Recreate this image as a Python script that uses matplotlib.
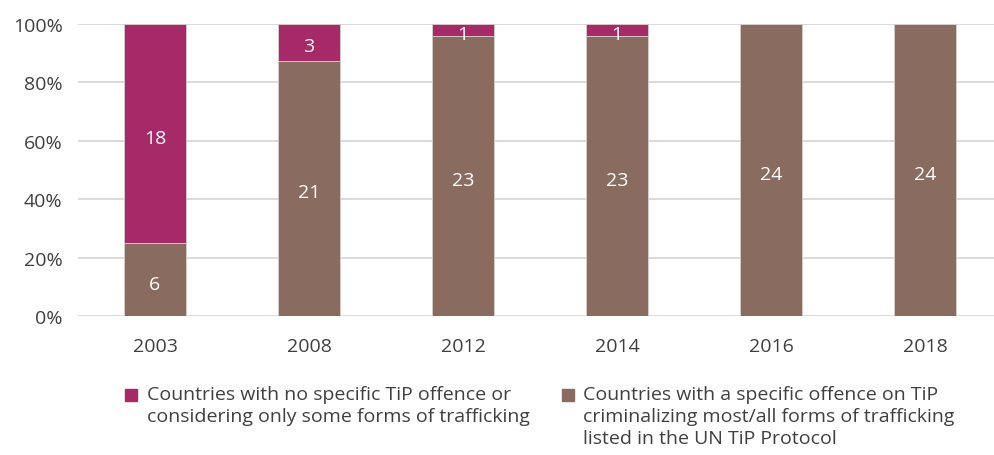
import matplotlib
matplotlib.use('Agg')
import matplotlib.pyplot as plt
from matplotlib.patches import Rectangle
from matplotlib.ticker import PercentFormatter

plt.rcParams['font.family'] = ['Open Sans', 'DejaVu Sans']

years = ['2003', '2008', '2012', '2014', '2016', '2018']
specific = [6, 21, 23, 23, 24, 24]
no_specific = [18, 3, 1, 1, 0, 0]

label_no = 'Countries with no specific TiP offence or\nconsidering only some forms of trafficking'
label_yes = 'Countries with a specific offence on TiP\ncriminalizing most/all forms of trafficking\nlisted in the UN TiP Protocol'

col_no = '#A62A67'
col_yes = '#8A6B60'
txt_col = '#404040'

totals = [a + b for a, b in zip(specific, no_specific)]
pct_yes = [100 * a / t for a, t in zip(specific, totals)]
pct_no = [100 * b / t for b, t in zip(no_specific, totals)]

W, H = 995, 456
fig = plt.figure(figsize=(W / 100, H / 100), dpi=100)
ax = fig.add_axes([78 / W, 139 / H, 917 / W, 292 / H])

x = list(range(len(years)))
w = 0.40
ax.bar(x, pct_yes, w, color=col_yes, edgecolor='#d8d0cc', linewidth=0.6, zorder=3)
ax.bar(x, pct_no, w, bottom=pct_yes, color=col_no, edgecolor='#d8d0cc', linewidth=0.6, zorder=3)

# value labels, nudged down a little like the original
for i in x:
    ax.annotate(str(specific[i]), (i, pct_yes[i] / 2), xytext=(0, -3),
                textcoords='offset points', ha='center', va='center',
                color='white', fontsize=14, zorder=4)
    if no_specific[i] > 0:
        ax.annotate(str(no_specific[i]), (i, pct_yes[i] + pct_no[i] / 2),
                    xytext=(0, -3), textcoords='offset points', ha='center',
                    va='center', color='white', fontsize=14, zorder=4)

ax.set_ylim(0, 100)
ax.set_xlim(-0.5, -0.5 + 917 / 154)
ax.yaxis.set_major_formatter(PercentFormatter(decimals=0))
ax.set_yticks([0, 20, 40, 60, 80, 100])
ax.set_xticks(x)
ax.set_xticklabels(years)
ax.tick_params(axis='both', length=0, labelsize=14, colors=txt_col)
ax.tick_params(axis='x', pad=15)
ax.tick_params(axis='y', pad=11)
ax.grid(axis='y', color='#d4d4d4', linewidth=1.2, zorder=0)
for s in ax.spines.values():
    s.set_visible(False)

# legend drawn by hand so the marker sits on the first line
for mx, tx, col, lab in [(125, 147, col_no, label_no), (562, 583, col_yes, label_yes)]:
    fig.add_artist(Rectangle((mx / W, 1 - 402 / H), 12 / W, 12 / H,
                             transform=fig.transFigure, color=col))
    fig.text(tx / W, 1 - 386 / H, lab, ha='left', va='top', fontsize=14,
             color=txt_col, linespacing=1.3)

fig.savefig('out.png', dpi=100)
